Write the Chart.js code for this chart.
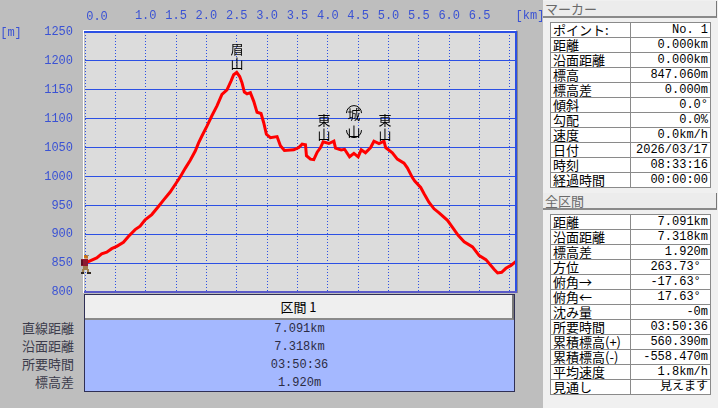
<!DOCTYPE html>
<html lang="ja">
<head>
<meta charset="utf-8">
<title>断面図</title>
<script src="https://cdn.jsdelivr.net/npm/chart.js@4/dist/chart.umd.min.js"></script>
<style>
html, body { margin: 0; padding: 0; background: #bebebe; overflow: hidden; }
#page { position: relative; width: 718px; height: 408px; font-family: "Noto Sans CJK JP", sans-serif; }
#profile { position: absolute; left: 0; top: 0; }
#side { position: absolute; left: 543px; top: 0; width: 175px; height: 408px; background: #f0f0f0; }
.head { position: absolute; left: 0; width: 174px; height: 17px; line-height: 16px; background: #ececec; color: #6a6a6a; font-size: 13px; box-sizing: border-box; padding-left: 2px; border-right: 1px solid #777; border-bottom: 2px solid #8a8a8a; }
table.info { position: absolute; left: 7px; width: 161px; border-collapse: collapse; background: #fff; table-layout: fixed; }
table.info td { border: 1px solid #8a8a8a; height: 14px; padding: 0 2px; font-size: 13px; line-height: 14px; color: #000; white-space: nowrap; overflow: hidden; }
table.info td.v { text-align: right; font-family: "Liberation Mono", "Noto Sans CJK JP", monospace; font-size: 12px; }
#sect { position: absolute; left: 84px; top: 294px; width: 431px; height: 98px; box-sizing: border-box; border: 1px solid #2f2f55; background: #a4b8ff; }
#sectBtn { height: 23px; line-height: 23px; text-align: center; background: #efefef; border-right: 2px solid #777; border-bottom: 2px solid #8a8a8a; font-size: 13px; color: #000; }
.sv { height: 18px; line-height: 18px; text-align: center; font-family: "Liberation Mono", "Noto Sans CJK JP", monospace; font-size: 12px; color: #2c2c44; }
.sl { position: absolute; right: 644px; font-size: 13px; line-height: 18px; color: #3c3c4c; white-space: nowrap; }
</style>
</head>
<body>
<div id="page">
  <canvas id="profile" width="543" height="296"></canvas>
  <div id="sect"><div id="sectBtn">区間 1</div><div id="sectVals"></div></div>
  <div id="sectLabels"></div>
  <div id="side">
    <div class="head" style="top:1px">マーカー</div>
    <table class="info" id="markerTable" style="top:22px"></table>
    <div class="head" style="top:193px">全区間</div>
    <table class="info" id="totalTable" style="top:214px"></table>
  </div>
</div>
<script>
// Profile
const distanceKm = [0, 0.083, 0.193, 0.275, 0.358, 0.44, 0.523, 0.633, 0.715, 0.826, 0.908, 0.99, 1.1, 1.21, 1.293, 1.403, 1.486, 1.568, 1.651, 1.734, 1.816, 1.871, 1.926, 2.009, 2.09, 2.174, 2.256, 2.339, 2.405, 2.449, 2.499, 2.548, 2.587, 2.625, 2.669, 2.724, 2.78, 2.834, 2.9, 2.944, 2.988, 3.054, 3.164, 3.219, 3.285, 3.439, 3.522, 3.577, 3.632, 3.648, 3.714, 3.769, 3.825, 3.88, 3.923, 4.017, 4.1, 4.127, 4.22, 4.276, 4.358, 4.43, 4.5, 4.55, 4.62, 4.705, 4.76, 4.843, 4.925, 4.953, 5.063, 5.145, 5.255, 5.31, 5.393, 5.432, 5.53, 5.586, 5.668, 5.75, 5.833, 5.971, 6.054, 6.147, 6.246, 6.384, 6.494, 6.604, 6.742, 6.797, 6.863, 6.934, 7.017, 7.1];
const elevationM = [850, 854, 859, 866, 869, 875, 879, 886, 896, 908, 914, 925, 934, 948, 959, 973, 986, 999, 1014, 1028, 1044, 1058, 1070, 1087, 1105, 1122, 1142, 1150, 1165, 1176, 1180, 1173, 1162, 1146, 1143, 1145, 1130, 1111, 1109, 1093, 1073, 1067, 1069, 1053, 1045, 1046, 1050, 1056, 1055, 1036, 1030, 1029, 1042, 1050, 1060, 1057, 1061, 1049, 1046, 1047, 1034, 1040, 1034, 1046, 1041, 1050, 1061, 1057, 1061, 1050, 1041, 1030, 1023, 1015, 998, 992, 981, 970, 955, 944, 937, 924, 912, 898, 887, 878, 863, 856, 839, 833, 834, 841, 846, 853];

const peakNames = ["眉山", "東山", "城山", "東山"];
const peakKm = [2.5, 3.94, 4.43, 4.94];
const peakTopM = [1232, 1109, 1120, 1109];
const peakRinged = [false, false, true, false];

const hiddenKmTicks = [0, 0.5, 7];

const markerRows = [
  ["ポイント:", "No. 1"], ["距離", "0.000km"], ["沿面距離", "0.000km"], ["標高", "847.060m"],
  ["標高差", "0.000m"], ["傾斜", "0.0°"], ["勾配", "0.0%"], ["速度", "0.0km/h"],
  ["日付", "2026/03/17"], ["時刻", "08:33:16"], ["経過時間", "00:00:00"]
];
const totalRows = [
  ["距離", "7.091km"], ["沿面距離", "7.318km"], ["標高差", "1.920m"], ["方位", "263.73° "],
  ["俯角→", "-17.63° "], ["俯角←", "17.63° "], ["沈み量", "-0m"], ["所要時間", "03:50:36"],
  ["累積標高(+)", "560.390m"], ["累積標高(-)", "-558.470m"], ["平均速度", "1.8km/h"], ["見通し", "見えます"]
];
const sectionLabels = ["直線距離", "沿面距離", "所要時間", "標高差"];
const sectionValues = ["7.091km", "7.318km", "03:50:36", "1.920m"];

const AXIS_BLUE = "#3a52d4";
const GRID_BLUE = "#2c50e4";

// Side tables and the section box
function fillTable(id, rows) {
  document.getElementById(id).innerHTML = rows.map(r =>
    "<tr><td>" + r[0] + "</td><td class='v'>" + r[1].replace(/ $/, "&nbsp;") + "</td></tr>").join("");
}
fillTable("markerTable", markerRows);
fillTable("totalTable", totalRows);
document.getElementById("sectVals").innerHTML = sectionValues.map(v => "<div class='sv'>" + v + "</div>").join("");
document.getElementById("sectLabels").innerHTML = sectionLabels.map((t, i) =>
  "<div class='sl' style='top:" + (319 + i * 18) + "px'>" + t + "</div>").join("");

// Plot background, frame, unit labels, peak names and the hiker
const profileDecor = {
  id: "profileDecor",
  beforeDraw(chart) {
    const { ctx, chartArea: a } = chart;
    ctx.save();
    ctx.fillStyle = "#dcdcdc";
    ctx.fillRect(a.left, a.top, a.width, a.height);
    ctx.fillStyle = "#ffffff";
    ctx.fillRect(a.left - 2, a.top - 2, a.width + 2, 1);
    ctx.fillRect(a.left - 2, a.top - 2, 1, a.height + 3);
    ctx.restore();
  },
  afterDraw(chart) {
    const { ctx, chartArea: a, scales: { x, y } } = chart;
    ctx.save();
    ctx.fillStyle = GRID_BLUE;
    ctx.fillRect(a.left - 1, a.top - 1, a.width + 2, 2);
    ctx.fillRect(a.right - 1, a.top - 1, 2, a.height + 2);
    ctx.fillStyle = "#5a5ac8";
    ctx.fillRect(a.left - 1, a.bottom - 1, a.width + 2, 2);
    ctx.fillStyle = "#8a8a8a";
    ctx.fillRect(a.right + 1, a.top - 1, 1, a.height + 2);

    ctx.fillStyle = AXIS_BLUE;
    ctx.font = "12px 'Liberation Mono'";
    ctx.textBaseline = "middle";
    ctx.textAlign = "center";
    ctx.fillText("0.0", x.getPixelForValue(0) + 12, 17);
    ctx.fillText("[km]", 530, 16);
    ctx.fillText("[m]", 11, 33);

    ctx.fillStyle = "#000";
    ctx.strokeStyle = "#000";
    ctx.lineWidth = 1;
    ctx.font = "13px 'Noto Sans CJK JP'";
    ctx.textBaseline = "top";
    peakNames.forEach((name, i) => {
      const px = Math.round(x.getPixelForValue(peakKm[i]));
      const py = y.getPixelForValue(peakTopM[i]);
      const gap = peakRinged[i] ? 17 : 14;
      [...name].forEach((ch, k) => ctx.fillText(ch, px, py + k * gap));
      if (peakRinged[i]) {
        ctx.beginPath();
        ctx.arc(px, py + 6, 7.5, Math.PI, 0);
        ctx.moveTo(px + 7.5, py + 23);
        ctx.arc(px, py + 23, 7.5, 0, Math.PI);
        ctx.stroke();
      }
    });

    // hiker sprite sits on the first profile point
    const hx = Math.round(x.getPixelForValue(distanceKm[0]));
    const hy = Math.round(y.getPixelForValue(elevationM[0]));
    const sprite = [
      ["#c8741e", -1, -8, 4, 3], ["#8a8a8a", 2, -8, 2, 1], ["#e0a070", 0, -5, 3, 1],
      ["#8c1a30", -4, -4, 7, 7], ["#5a1020", -4, -3, 2, 5], ["#a08050", -2, 3, 5, 4],
      ["#a08050", -3, 6, 2, 3], ["#a08050", 2, 6, 2, 3], ["#302820", -4, 9, 3, 2], ["#302820", 2, 9, 4, 2]
    ];
    sprite.forEach(s => { ctx.fillStyle = s[0]; ctx.fillRect(hx + s[1], hy + s[2], s[3], s[4]); });
    ctx.restore();
  }
};

new Chart(document.getElementById("profile"), {
  type: "line",
  data: {
    datasets: [{
      data: distanceKm.map((d, i) => ({ x: d, y: elevationM[i] })),
      borderColor: "#ff0000",
      borderWidth: 3,
      pointRadius: 0,
      tension: 0,
      borderJoinStyle: "miter"
    }]
  },
  options: {
    responsive: false,
    maintainAspectRatio: false,
    animation: false,
    layout: { padding: { left: 0, top: 0, right: 27, bottom: 4 } },
    plugins: { legend: { display: false }, tooltip: { enabled: false } },
    scales: {
      x: {
        type: "linear",
        position: "top",
        min: 0,
        max: 7.1,
        afterFit(s) { s.height = 32; s.paddingLeft = 0; s.paddingRight = 0; },
        grid: { color: GRID_BLUE, lineWidth: 1, drawTicks: false },
        border: { display: false, dash: [1, 2] },
        ticks: {
          stepSize: 0.5,
          includeBounds: false,
          maxRotation: 0,
          autoSkip: false,
          padding: 9,
          color: AXIS_BLUE,
          font: { family: "'Liberation Mono'", size: 12 },
          callback: v => hiddenKmTicks.includes(v) ? "" : v.toFixed(1)
        }
      },
      y: {
        min: 800,
        max: 1250,
        afterFit(s) { s.width = 85; s.paddingTop = 0; s.paddingBottom = 0; },
        grid: { color: GRID_BLUE, lineWidth: 1, drawTicks: false },
        border: { display: false },
        ticks: {
          stepSize: 50,
          padding: 12,
          color: AXIS_BLUE,
          font: { family: "'Liberation Mono'", size: 12 },
          callback: v => String(v)
        }
      }
    }
  },
  plugins: [profileDecor]
});
</script>
</body>
</html>
